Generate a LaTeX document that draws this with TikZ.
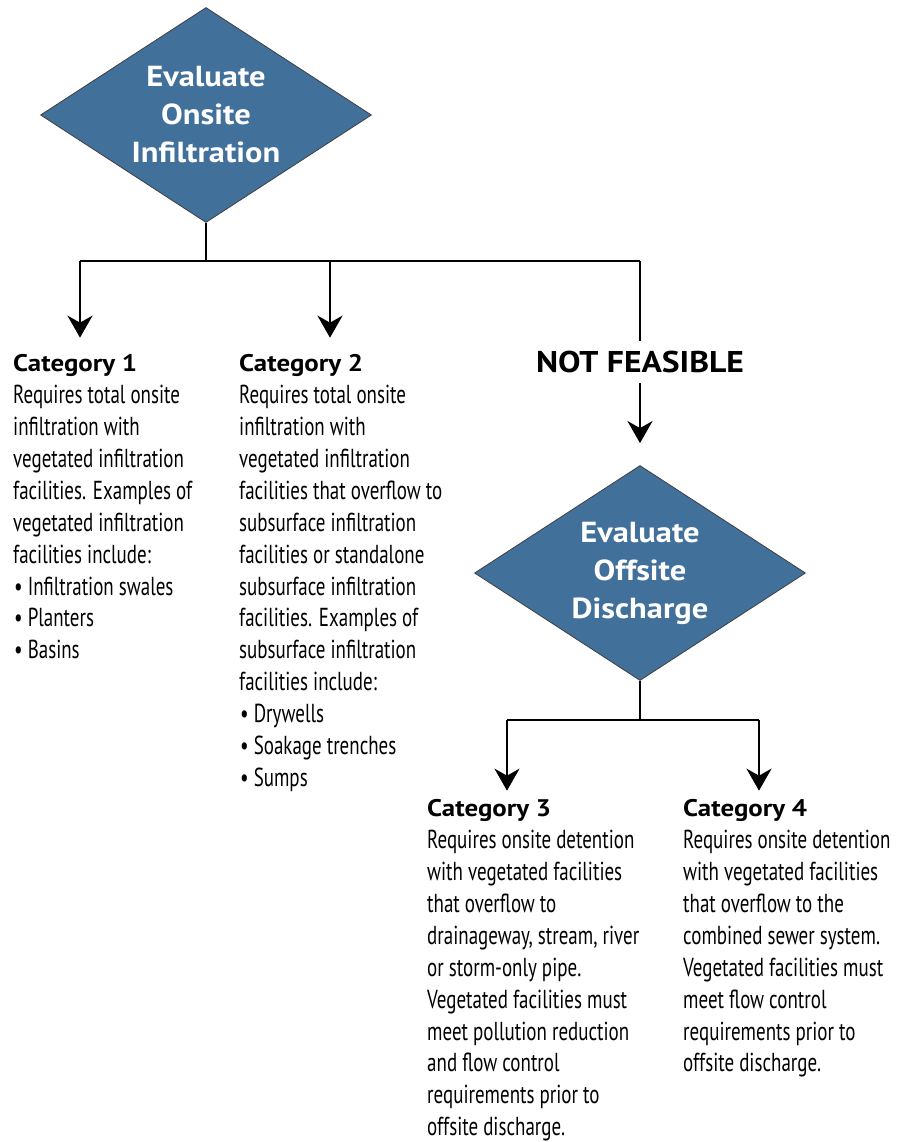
\documentclass[tikz,border=0pt]{standalone}
\usepackage{fontspec}
\setmainfont{PT Sans}
\newfontfamily\bodyfont[FakeStretch=0.73]{PT Sans}
\newfontfamily\headfont[FakeStretch=1.12]{PT Sans}
\usetikzlibrary{positioning}
\usetikzlibrary{shapes.geometric}
\usetikzlibrary{arrows.meta}
\definecolor{diamondblue}{HTML}{41709A}
\newcommand{\bitem}{\hspace*{1pt}\textbullet\hspace{5pt}}

\begin{document}
\begin{tikzpicture}[x=1pt,y=-1pt,
	decision/.style={diamond,aspect=1.54,draw=black!75,line width=0.8pt,fill=diamondblue,
		minimum width=331pt,minimum height=215pt,inner sep=0pt,align=center,
		text=white,font=\headfont\bfseries\fontsize{29}{38}\selectfont},
	head/.style={inner sep=0pt,anchor=base west,font=\headfont\bfseries\fontsize{24}{32}\selectfont},
	body/.style={inner sep=0pt,align=left,font=\bodyfont\fontsize{26}{31.9}\selectfont},
	wire/.style={line width=2.6pt},
	flow/.style={wire,-{Stealth[length=22pt,width=25pt,inset=7pt]}}]
	\useasboundingbox (0,0) rectangle (896,1142);
	%% top decision
	\node[decision] (onsite) at (206,115) {Evaluate\\Onsite\\Infiltration};
	\coordinate (split1) at (206,261);
	\coordinate[left=126pt of split1] (b1);
	\coordinate[right=124pt of split1] (b2);
	\coordinate[right=434pt of split1] (b3);
	% categories 1 and 2
	\node[head] (cat1) at (13,371) {Category 1};
	\node[body,below right=14pt and 0pt of cat1.base west] (cat1txt) {Requires total onsite\\
		infiltration with\\vegetated infiltration\\facilities. Examples of\\
		vegetated infiltration\\facilities include:\\
		\bitem Infiltration swales\\\bitem Planters\\\bitem Basins};
	\node[head] (cat2) at (239,371) {Category 2};
	\node[body,below right=14pt and 0pt of cat2.base west] (cat2txt) {Requires total onsite\\
		infiltration with\\vegetated infiltration\\facilities that overflow to\\
		subsurface infiltration\\facilities or standalone\\subsurface infiltration\\
		facilities. Examples of\\subsurface infiltration\\facilities include:\\
		\bitem Drywells\\\bitem Soakage trenches\\\bitem Sumps};
	% not feasible branch
	\node[inner sep=0pt,font=\headfont\bfseries\fontsize{30}{32}\selectfont] (notfeas) at (640,362) {NOT FEASIBLE};
	\node[decision] (offsite) at (640,573) {Evaluate\\Offsite\\Discharge};
	\coordinate (split2) at (640,720);
	\coordinate[left=133pt of split2] (c3);
	\coordinate[right=119pt of split2] (c4);
	% categories 3 and 4
	\node[head] (cat3) at (427,816) {Category 3};
	\node[body,below right=14pt and 0pt of cat3.base west] (cat3txt) {Requires onsite detention\\
		with vegetated facilities\\that overflow to\\drainageway, stream, river\\
		or storm-only pipe.\\Vegetated facilities must\\meet pollution reduction\\
		and flow control\\requirements prior to\\offsite discharge.};
	\node[head] (cat4) at (683,816) {Category 4};
	\node[body,below right=14pt and 0pt of cat4.base west] (cat4txt) {Requires onsite detention\\
		with vegetated facilities\\that overflow to the\\combined sewer system.\\
		Vegetated facilities must\\meet flow control\\requirements prior to\\
		offsite discharge.};
	% connectors
	\draw[wire] (onsite.south) -- (split1);
	\draw[wire] (b1) -- (b3);
	\draw[flow,shorten >=16pt] (b1) -- (b1 |- cat1.north);
	\draw[flow,shorten >=16pt] (b2) -- (b2 |- cat2.north);
	\draw[wire,shorten >=10pt] (b3) -- (b3 |- notfeas.north);
	\draw[flow,shorten <=10pt,shorten >=22pt] (notfeas.south) -- (offsite.north);
	\draw[wire] (offsite.south) -- (split2);
	\draw[wire] (c3) -- (c4);
	\draw[flow,shorten >=8pt] (c3) -- (c3 |- cat3.north);
	\draw[flow,shorten >=8pt] (c4) -- (c4 |- cat4.north);
\end{tikzpicture}
\end{document}
